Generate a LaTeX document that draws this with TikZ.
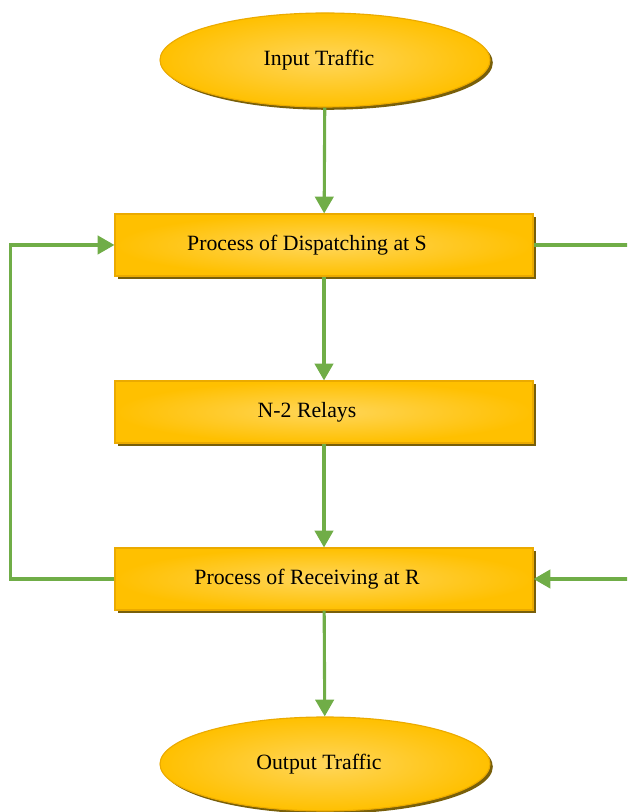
\documentclass[tikz,border=0pt]{standalone}
\usepackage{fontspec}
\setmainfont{Liberation Serif}
\usepackage{tikz}
\usetikzlibrary{arrows.meta,shapes.geometric,shadows}
\definecolor{goldfill}{RGB}{255,192,0}
\definecolor{goldlight}{RGB}{255,214,90}
\definecolor{goldedge}{RGB}{235,170,0}
\definecolor{shadowcol}{RGB}{120,95,10}
\definecolor{flowgreen}{RGB}{112,173,71}
\tikzset{
  terminal/.style={ellipse,draw=goldedge,line width=0.8pt,minimum width=8.25cm,
    minimum height=2.35cm,inner sep=0pt,
    inner color=goldlight,outer color=goldfill,
    drop shadow={shadow xshift=0.07cm,shadow yshift=-0.07cm,fill=shadowcol,opacity=1},
    execute at begin node=\hspace*{-0.3cm},
    font=\fontsize{15.5}{18}\selectfont},
  process/.style={rectangle,draw=goldedge,line width=0.8pt,minimum width=10.45cm,
    minimum height=1.55cm,inner sep=0pt,
    inner color=goldlight,outer color=goldfill,
    drop shadow={shadow xshift=0.08cm,shadow yshift=-0.08cm,fill=shadowcol,opacity=1},
    execute at begin node=\hspace*{-0.85cm},
    font=\fontsize{15.5}{18}\selectfont},
  flow/.style={-{Triangle[length=4.2mm,width=4.6mm]},line width=2.2pt,flowgreen}
}

\begin{document}
\begin{tikzpicture}
  \clip (0,0) rectangle (15.675,20.3);
  \useasboundingbox (0,0) rectangle (15.675,20.3);
  \node[terminal] (input) at (8.125,18.8) {Input Traffic};
  \node[process] (dispatch) at (8.1,14.175) {Process of Dispatching at S};
  \node[process] (relays) at (8.1,10.0) {N-2 Relays};
  \node[process] (receive) at (8.1,5.825) {Process of Receiving at R};
  \node[terminal] (output) at (8.125,1.2) {Output Traffic};

  \draw[flow] (input) -- (dispatch);
  \draw[flow] (dispatch) -- (relays);
  \draw[flow] (relays) -- (receive);
  \draw[flow] (receive) -- (output);
  % feedback loops
  \draw[flow] (receive.west) -- ++(-2.6,0) |- (dispatch.west);
  \draw[flow] (dispatch.east) -- ++(2.6,0) |- (receive.east);
\end{tikzpicture}
\end{document}
